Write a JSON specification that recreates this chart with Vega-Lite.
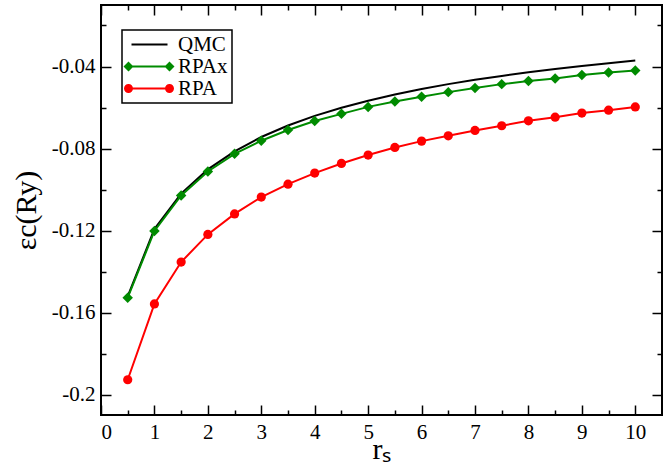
{
  "$schema": "https://vega.github.io/schema/vega-lite/v6.json",
  "width": 561,
  "height": 410,
  "autosize": "none",
  "padding": {"left": 101, "top": 5, "right": 7, "bottom": 52},
  "background": "white",
  "config": {
    "font": "Liberation Serif",
    "view": {"stroke": "black", "strokeWidth": 2},
    "axis": {"labelFont": "Liberation Serif", "labelFontSize": 21, "labelColor": "black", "titleFont": "Liberation Serif", "titleColor": "black", "titleFontWeight": "normal", "domain": false, "grid": false, "tickColor": "black", "tickWidth": 1.5}
  },
  "datasets": {
    "all": [
      {"series": "QMC", "rs": 0.5, "ec": -0.1521}, {"series": "QMC", "rs": 1, "ec": -0.1193}, {"series": "QMC", "rs": 1.5, "ec": -0.1020}, {"series": "QMC", "rs": 2, "ec": -0.0902}, {"series": "QMC", "rs": 2.5, "ec": -0.0814}, {"series": "QMC", "rs": 3, "ec": -0.0744}, {"series": "QMC", "rs": 3.5, "ec": -0.0688}, {"series": "QMC", "rs": 4, "ec": -0.0641}, {"series": "QMC", "rs": 4.5, "ec": -0.0601}, {"series": "QMC", "rs": 5, "ec": -0.0567}, {"series": "QMC", "rs": 5.5, "ec": -0.0537}, {"series": "QMC", "rs": 6, "ec": -0.0510}, {"series": "QMC", "rs": 6.5, "ec": -0.0486}, {"series": "QMC", "rs": 7, "ec": -0.0465}, {"series": "QMC", "rs": 7.5, "ec": -0.0446}, {"series": "QMC", "rs": 8, "ec": -0.0428}, {"series": "QMC", "rs": 8.5, "ec": -0.0412}, {"series": "QMC", "rs": 9, "ec": -0.0398}, {"series": "QMC", "rs": 9.5, "ec": -0.0384}, {"series": "QMC", "rs": 10, "ec": -0.0371},
      {"series": "RPAx", "rs": 0.5, "ec": -0.1528}, {"series": "RPAx", "rs": 1, "ec": -0.1202}, {"series": "RPAx", "rs": 1.5, "ec": -0.1029}, {"series": "RPAx", "rs": 2, "ec": -0.0912}, {"series": "RPAx", "rs": 2.5, "ec": -0.0826}, {"series": "RPAx", "rs": 3, "ec": -0.0762}, {"series": "RPAx", "rs": 3.5, "ec": -0.0710}, {"series": "RPAx", "rs": 4, "ec": -0.0666}, {"series": "RPAx", "rs": 4.5, "ec": -0.0631}, {"series": "RPAx", "rs": 5, "ec": -0.0597}, {"series": "RPAx", "rs": 5.5, "ec": -0.0571}, {"series": "RPAx", "rs": 6, "ec": -0.0548}, {"series": "RPAx", "rs": 6.5, "ec": -0.0525}, {"series": "RPAx", "rs": 7, "ec": -0.0505}, {"series": "RPAx", "rs": 7.5, "ec": -0.0486}, {"series": "RPAx", "rs": 8, "ec": -0.0471}, {"series": "RPAx", "rs": 8.5, "ec": -0.0458}, {"series": "RPAx", "rs": 9, "ec": -0.0442}, {"series": "RPAx", "rs": 9.5, "ec": -0.0429}, {"series": "RPAx", "rs": 10, "ec": -0.0419},
      {"series": "RPA", "rs": 0.5, "ec": -0.1928}, {"series": "RPA", "rs": 1, "ec": -0.1558}, {"series": "RPA", "rs": 1.5, "ec": -0.1354}, {"series": "RPA", "rs": 2, "ec": -0.1219}, {"series": "RPA", "rs": 2.5, "ec": -0.1119}, {"series": "RPA", "rs": 3, "ec": -0.1037}, {"series": "RPA", "rs": 3.5, "ec": -0.0974}, {"series": "RPA", "rs": 4, "ec": -0.0920}, {"series": "RPA", "rs": 4.5, "ec": -0.0873}, {"series": "RPA", "rs": 5, "ec": -0.0832}, {"series": "RPA", "rs": 5.5, "ec": -0.0795}, {"series": "RPA", "rs": 6, "ec": -0.0764}, {"series": "RPA", "rs": 6.5, "ec": -0.0738}, {"series": "RPA", "rs": 7, "ec": -0.0712}, {"series": "RPA", "rs": 7.5, "ec": -0.0689}, {"series": "RPA", "rs": 8, "ec": -0.0665}, {"series": "RPA", "rs": 8.5, "ec": -0.0647}, {"series": "RPA", "rs": 9, "ec": -0.0627}, {"series": "RPA", "rs": 9.5, "ec": -0.0613}, {"series": "RPA", "rs": 10, "ec": -0.0597}
    ]
  },
  "resolve": {"axis": {"x": "independent", "y": "independent"}},
  "layer": [
    {
      "data": {"name": "all"},
      "mark": {"type": "line", "strokeWidth": 2},
      "encoding": {
        "x": {"field": "rs", "type": "quantitative", "scale": {"domain": [0, 10.5], "nice": false, "zero": false},
          "axis": {"orient": "bottom", "values": [0, 0.5, 1, 1.5, 2, 2.5, 3, 3.5, 4, 4.5, 5, 5.5, 6, 6.5, 7, 7.5, 8, 8.5, 9, 9.5, 10],
            "title": "rₛ", "titleFontSize": 30, "titlePadding": -8,
            "labelExpr": "datum.value % 1 === 0 ? format(datum.value, 'd') : ''",
            "labelPadding": 16,
            "tickSize": {"condition": {"test": "datum.value % 1 === 0", "value": -10}, "value": -5}}},
        "y": {"field": "ec", "type": "quantitative", "scale": {"domain": [-0.21, -0.01], "nice": false, "zero": false},
          "axis": {"orient": "left", "values": [-0.2, -0.18, -0.16, -0.14, -0.12, -0.1, -0.08, -0.06, -0.04, -0.02],
            "title": "εc(Ry)", "titleFontSize": 30, "titlePadding": 10,
            "labelExpr": "abs(round(datum.value * 100)) % 4 === 0 ? '-' + format(-datum.value, '~g') : ''",
            "labelPadding": 16,
            "tickSize": {"condition": {"test": "abs(round(datum.value * 100)) % 4 === 0", "value": -10}, "value": -5}}},
        "color": {"field": "series", "type": "nominal",
          "scale": {"domain": ["QMC", "RPAx", "RPA"], "range": ["black", "#008b00", "#ff0000"]},
          "legend": {"title": null, "orient": "none", "legendX": 21, "legendY": 25, "symbolSize": 400,
            "labelFont": "Liberation Serif", "labelFontSize": 21, "labelColor": "black",
            "strokeColor": "black", "fillColor": "white", "padding": 4, "rowPadding": 0, "labelOffset": 31,
            "encode": {
              "symbols": {"update": {
                "shape": {"signal": "datum.value === 'QMC' ? 'M-0.5,-0.1H3.1V0.1H-0.5Z' : datum.value === 'RPAx' ? 'M-0.8,-0.1H3.3V0.1H-0.8Z M-0.8,-0.5L-0.3,0L-0.8,0.5L-1.3,0Z M3.3,-0.5L3.8,0L3.3,0.5L2.8,0Z' : 'M-0.8,-0.1H3.3V0.1H-0.8Z M-0.35,0A0.45,0.45 0 1,1 -1.25,0A0.45,0.45 0 1,1 -0.35,0Z M3.75,0A0.45,0.45 0 1,1 2.85,0A0.45,0.45 0 1,1 3.75,0Z'"},
                "fill": {"signal": "scale('color', datum.value)"},
                "strokeWidth": {"value": 0},
                "opacity": {"value": 1}
              }},
              "legend": {"update": {"strokeWidth": {"value": 1.5}}}
            }}
        }
      }
    },
    {
      "data": {"name": "all"},
      "transform": [{"filter": "datum.series === 'RPAx'"}],
      "mark": {"type": "point", "shape": "diamond", "filled": true, "size": 110, "color": "#008b00", "opacity": 1},
      "encoding": {
        "x": {"field": "rs", "type": "quantitative", "axis": null},
        "y": {"field": "ec", "type": "quantitative", "axis": null}
      }
    },
    {
      "data": {"name": "all"},
      "transform": [{"filter": "datum.series === 'RPA'"}],
      "mark": {"type": "point", "shape": "circle", "filled": true, "size": 85, "color": "#ff0000", "opacity": 1},
      "encoding": {
        "x": {"field": "rs", "type": "quantitative",
          "axis": {"orient": "top", "values": [0, 0.5, 1, 1.5, 2, 2.5, 3, 3.5, 4, 4.5, 5, 5.5, 6, 6.5, 7, 7.5, 8, 8.5, 9, 9.5, 10],
            "labels": false, "title": null,
            "tickSize": {"condition": {"test": "datum.value % 1 === 0", "value": -10}, "value": -5}}},
        "y": {"field": "ec", "type": "quantitative",
          "axis": {"orient": "right", "values": [-0.2, -0.18, -0.16, -0.14, -0.12, -0.1, -0.08, -0.06, -0.04, -0.02],
            "labels": false, "title": null,
            "tickSize": {"condition": {"test": "abs(round(datum.value * 100)) % 4 === 0", "value": -10}, "value": -5}}}
      }
    }
  ]
}
